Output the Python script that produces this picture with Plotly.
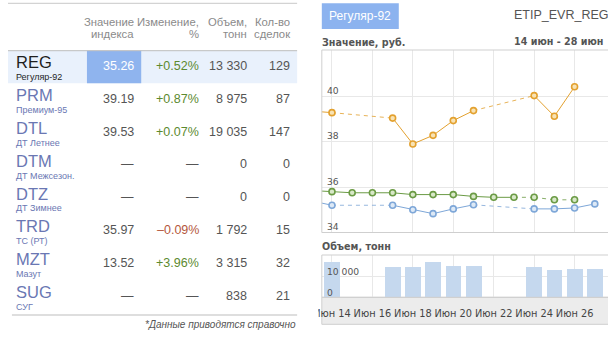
import plotly.graph_objects as go
import pandas as pd

W, H = 608, 344

# ---------------- index table ----------------
codes = ["REG", "PRM", "DTL", "DTM", "DTZ", "TRD", "MZT", "SUG"]
names = ["Регуляр-92", "Премиум-95", "ДТ Летнее", "ДТ Межсезон.", "ДТ Зимнее",
         "ТС (РТ)", "Мазут", "СУГ"]
index_values = [35.26, 39.19, 39.53, None, None, 35.97, 13.52, None]
changes_pct = [0.52, 0.87, 0.07, None, None, -0.09, 3.96, None]
volumes_t = [13330, 8975, 19035, 0, 0, 1792, 3315, 838]
deals = [129, 87, 147, 0, 0, 15, 32, 21]
header_line1 = ["Значение", "Изменение,", "Объем,", "Кол-во"]
header_line2 = ["индекса", "%", "тонн", "сделок"]
selected_code = "REG"
footnote = "*Данные приводятся справочно"

# ---------------- price history (руб.) ----------------
# dashed_in: the segment leading into the point is drawn dashed
reg_dates = ["2013-06-13", "2013-06-14", "2013-06-17", "2013-06-18", "2013-06-19",
             "2013-06-20", "2013-06-21", "2013-06-24", "2013-06-25", "2013-06-26",
             "2013-06-27"]
reg_values = [35.39, 35.20, 35.20, 35.00, 34.83, 35.04, 35.22, 35.04, 35.04, 35.08, 35.26]
reg_dashed_in = [False, False, True, False, False, False, False, True, False, False, False]

upper_dates = ["2013-06-13", "2013-06-14", "2013-06-17", "2013-06-18", "2013-06-19",
               "2013-06-20", "2013-06-21", "2013-06-24", "2013-06-25", "2013-06-26"]
upper_values = [39.35, 39.28, 39.04, 37.90, 38.28, 38.93, 39.37, 40.03, 39.12, 40.42]
upper_dashed_in = [False, False, True, False, False, False, False, True, False, False]

middle_dates = ["2013-06-13", "2013-06-14", "2013-06-15", "2013-06-16", "2013-06-17",
                "2013-06-18", "2013-06-19", "2013-06-20", "2013-06-21", "2013-06-22",
                "2013-06-23", "2013-06-24", "2013-06-25", "2013-06-26"]
middle_values = [35.85, 35.80, 35.75, 35.75, 35.75, 35.67, 35.67, 35.67, 35.59, 35.55,
                 35.55, 35.55, 35.44, 35.44]
middle_dashed_in = [False] * 11 + [True, True, True]

# ---------------- traded volume (тонн) ----------------
vol_dates = ["2013-06-14", "2013-06-17", "2013-06-18", "2013-06-19", "2013-06-20",
             "2013-06-21", "2013-06-24", "2013-06-25", "2013-06-26", "2013-06-27"]
vol_values = [16670, 14430, 14430, 16670, 15050, 15050, 14570, 13000, 13620, 13330]

price_ticks = [34, 36, 38, 40]
volume_ticks = [0, 10000]
months_ru = ["Янв", "Фев", "Мар", "Апр", "Май", "Июн", "Июл", "Авг", "Сен", "Окт", "Ноя", "Дек"]
tick_dates = pd.date_range("2013-06-14", "2013-06-26", freq="2D")
tick_text = [f"{months_ru[d.month - 1]} {d.day}" for d in tick_dates]
period_text = "14 июн - 28 июн"
product_text = "Регуляр-92"
ticker_text = "ETIP_EVR_REG"


def px_x(p):
    return p / W


def px_y(p):
    return 1 - p / H


def fmt_int(n):
    return f"{n:,}".replace(",", " ")


fig = go.Figure()

ORANGE, ORANGE_FILL = "#e3a12f", "#f8e3b4"
GREEN, GREEN_FILL = "#6b9b45", "#d8e8c8"
BLUE, BLUE_FILL = "#7ea7d8", "#dde9f6"


def add_series(dates, values, dashed_in, color, fill):
    sx, sy, dx, dy = [], [], [], []
    for i, (d, v) in enumerate(zip(dates, values)):
        if i and dashed_in[i]:
            sx.append(None)
            sy.append(None)
            dx += [dates[i - 1], d, None]
            dy += [values[i - 1], v, None]
        sx.append(d)
        sy.append(v)
    fig.add_trace(go.Scatter(x=dx, y=dy, mode="lines", connectgaps=False,
                             line=dict(color=color, width=1, dash="4px,4px"),
                             opacity=0.8, hoverinfo="skip", showlegend=False))
    fig.add_trace(go.Scatter(x=sx, y=sy, mode="lines+markers", connectgaps=False,
                             line=dict(color=color, width=1),
                             marker=dict(size=6, color=fill, line=dict(color=color, width=1.6)),
                             showlegend=False))


add_series(upper_dates, upper_values, upper_dashed_in, ORANGE, ORANGE_FILL)
add_series(middle_dates, middle_values, middle_dashed_in, GREEN, GREEN_FILL)
add_series(reg_dates, reg_values, reg_dashed_in, BLUE, BLUE_FILL)

fig.add_trace(go.Bar(x=vol_dates, y=vol_values, xaxis="x2", yaxis="y2",
                     width=0.78 * 86400000, marker=dict(color="#c5d8ee", line=dict(width=0)),
                     showlegend=False))

# table lives on its own pixel-scaled axes
fig.add_trace(go.Scatter(x=[None], y=[None], xaxis="x3", yaxis="y3",
                         showlegend=False, hoverinfo="skip"))

GRID = "#e8e8e8"
AXFONT = dict(family="DejaVu Sans", size=9.2, color="#555555")
XFONT = dict(family="DejaVu Sans", size=9.8, color="#444444")
CHART_X0 = 318

fig.update_layout(
    width=W, height=H, autosize=False,
    margin=dict(l=0, r=0, t=0, b=0),
    paper_bgcolor="white", plot_bgcolor="rgba(0,0,0,0)",
    bargap=0,
    xaxis=dict(type="date", domain=[px_x(CHART_X0), 1], anchor="y",
               range=["2013-06-13 11:57", "2013-06-27 15:40"],
               tickvals=list(tick_dates), showticklabels=False, ticks="",
               showgrid=True, gridcolor=GRID, gridwidth=1, zeroline=False, showline=False),
    yaxis=dict(domain=[px_y(232.5), px_y(50)], range=[34, 42.04], anchor="x",
               tickvals=price_ticks, showticklabels=False, ticks="",
               showgrid=True, gridcolor=GRID, zeroline=False, showline=False),
    xaxis2=dict(type="date", matches="x", domain=[px_x(CHART_X0), 1], anchor="y2",
                tickvals=list(tick_dates), ticktext=tick_text, tickfont=XFONT,
                ticks="", ticklabelstandoff=9, ticklabeloverflow="allow",
                showgrid=True, gridcolor=GRID, zeroline=False, showline=False),
    yaxis2=dict(domain=[px_y(297.3), px_y(255)], range=[0, 20140], anchor="x2",
                tickvals=volume_ticks, showticklabels=False, ticks="",
                showgrid=True, gridcolor=GRID, zeroline=False, showline=False),
    xaxis3=dict(domain=[0, px_x(300)], range=[0, 300], anchor="y3", visible=False,
                fixedrange=True),
    yaxis3=dict(domain=[0, 1], range=[H, 0], anchor="x3", visible=False, fixedrange=True),
)

shapes = []
annotations = []

# y-axis labels sit inside the plot, just above their grid lines
for t in price_ticks:
    annotations.append(dict(xref="paper", yref="y", x=px_x(321), y=t, text=str(t),
                            xanchor="left", yanchor="middle", yshift=5.8, showarrow=False,
                            font=AXFONT))
for t in volume_ticks:
    annotations.append(dict(xref="paper", yref="y2", x=px_x(321), y=t, text=fmt_int(t),
                            xanchor="left", yanchor="middle", yshift=5.2, showarrow=False,
                            font=AXFONT))

# ---------------- table drawing ----------------
TFONT = "Liberation Sans"
COL_RIGHT = [129, 195, 243, 287]
ROW0, ROW_H = 66, 32.8
TABLE_R = 293
CODE_BLUE = "#6a77b3"
VAL_GRAY = "#555555"
POS_GREEN = "#5c8a2f"
NEG_RED = "#b5573d"
SEL_BG = "#e9f1fc"
SEL_CELL = "#8fb4ee"

row_top = lambda i: ROW0 + i * ROW_H - 15.3
for i, code in enumerate(codes):
    if code == selected_code:
        shapes.append(dict(type="rect", xref="x3", yref="y3", x0=0, x1=TABLE_R,
                           y0=row_top(i), y1=row_top(i) + ROW_H - 0.2,
                           fillcolor=SEL_BG, line=dict(width=0), layer="below"))
        shapes.append(dict(type="rect", xref="x3", yref="y3", x0=80, x1=135,
                           y0=row_top(i), y1=row_top(i) + ROW_H - 0.2,
                           fillcolor=SEL_CELL, line=dict(width=0), layer="below"))

shapes += [
    dict(type="line", xref="x3", yref="y3", x0=0, x1=TABLE_R, y0=3.3, y1=3.3,
         line=dict(color="#c8c8c8", width=1)),
    dict(type="line", xref="x3", yref="y3", x0=0, x1=TABLE_R, y0=50.7, y1=50.7,
         line=dict(color="#bdbdbd", width=1)),
    dict(type="line", xref="x3", yref="y3", x0=4, x1=TABLE_R, y0=315, y1=315,
         line=dict(color="#bdbdbd", width=1)),
]

for c, (h1, h2) in enumerate(zip(header_line1, header_line2)):
    for txt, yy in ((h1, 21.7), (h2, 34.3)):
        annotations.append(dict(xref="x3", yref="y3", x=COL_RIGHT[c] + 1, y=yy, text=txt,
                                xanchor="right", yanchor="middle", showarrow=False,
                                font=dict(family=TFONT, size=11.3, color="#8a8a8a")))

for i, code in enumerate(codes):
    yc = ROW0 + i * ROW_H
    sel = code == selected_code
    code_color = "#1e1e1e" if sel else CODE_BLUE
    annotations.append(dict(xref="x3", yref="y3", x=6, y=yc - 3.6, text=code,
                            xanchor="left", yanchor="middle", showarrow=False,
                            font=dict(family=TFONT, size=16.5, color=code_color)))
    annotations.append(dict(xref="x3", yref="y3", x=6, y=yc + 11.2, text=names[i],
                            xanchor="left", yanchor="middle", showarrow=False,
                            font=dict(family=TFONT, size=9, color=code_color)))
    v = index_values[i]
    ch = changes_pct[i]
    cells = [
        ("—" if v is None else f"{v:.2f}", "white" if sel else VAL_GRAY),
        ("—" if ch is None else (f"+{ch:.2f}%" if ch >= 0 else f"–{abs(ch):.2f}%"),
         VAL_GRAY if ch is None else (POS_GREEN if ch >= 0 else NEG_RED)),
        (fmt_int(volumes_t[i]), VAL_GRAY),
        (str(deals[i]), VAL_GRAY),
    ]
    for c, (txt, col) in enumerate(cells):
        annotations.append(dict(xref="x3", yref="y3", x=COL_RIGHT[c] + 1, y=yc, text=txt,
                                xanchor="right", yanchor="middle", showarrow=False,
                                font=dict(family=TFONT, size=12.5, color=col)))

annotations.append(dict(xref="x3", yref="y3", x=TABLE_R + 1, y=324, text=f"<i>{footnote}</i>",
                        xanchor="right", yanchor="middle", showarrow=False,
                        font=dict(family=TFONT, size=10, color="#555555")))

# ---------------- chart frame and headings ----------------
shapes += [
    # product badge
    dict(type="rect", xref="paper", yref="paper", x0=px_x(318), x1=px_x(396),
         y0=px_y(29), y1=px_y(3.3), fillcolor="#8cb3ef", line=dict(width=0)),
    # price panel border
    dict(type="rect", xref="paper", yref="paper", x0=px_x(318), x1=px_x(W + 5),
         y0=px_y(232.5), y1=px_y(50), line=dict(color="#cfcfcf", width=1), layer="above"),
    # volume panel border
    dict(type="rect", xref="paper", yref="paper", x0=px_x(318), x1=px_x(W + 5),
         y0=px_y(297.3), y1=px_y(255), line=dict(color="#cfcfcf", width=1), layer="above"),
    # date strip
    dict(type="rect", xref="paper", yref="paper", x0=px_x(318), x1=px_x(W + 5),
         y0=px_y(324.3), y1=px_y(297.3), fillcolor="#ececec",
         line=dict(color="#cfcfcf", width=1), layer="below"),
    # left edge of the chart container
    dict(type="rect", xref="paper", yref="paper", x0=px_x(296), x1=px_x(314.5),
         y0=px_y(330), y1=px_y(298), fillcolor="white", line=dict(width=0), layer="above"),
]

annotations += [
    dict(xref="paper", yref="paper", x=px_x(357), y=px_y(16), text=product_text,
         xanchor="center", yanchor="middle", showarrow=False,
         font=dict(family=TFONT, size=12, color="white")),
    dict(xref="paper", yref="paper", x=px_x(511), y=px_y(15.5), text=ticker_text,
         xanchor="left", yanchor="middle", showarrow=False,
         font=dict(family=TFONT, size=12.5, color="#555555")),
    dict(xref="paper", yref="paper", x=px_x(316), y=px_y(42.3), text="<b>Значение, руб.</b>",
         xanchor="left", yanchor="middle", showarrow=False,
         font=dict(family="DejaVu Sans", size=9.6, color="#555555")),
    dict(xref="paper", yref="paper", x=px_x(511), y=px_y(41.5), text=f"<b>{period_text}</b>",
         xanchor="left", yanchor="middle", showarrow=False,
         font=dict(family="DejaVu Sans", size=9.6, color="#555555")),
    dict(xref="paper", yref="paper", x=px_x(316), y=px_y(246), text="<b>Объем, тонн</b>",
         xanchor="left", yanchor="middle", showarrow=False,
         font=dict(family="DejaVu Sans", size=9.6, color="#555555")),
]

fig.update_layout(shapes=shapes, annotations=annotations)
fig.write_html("out.html")
